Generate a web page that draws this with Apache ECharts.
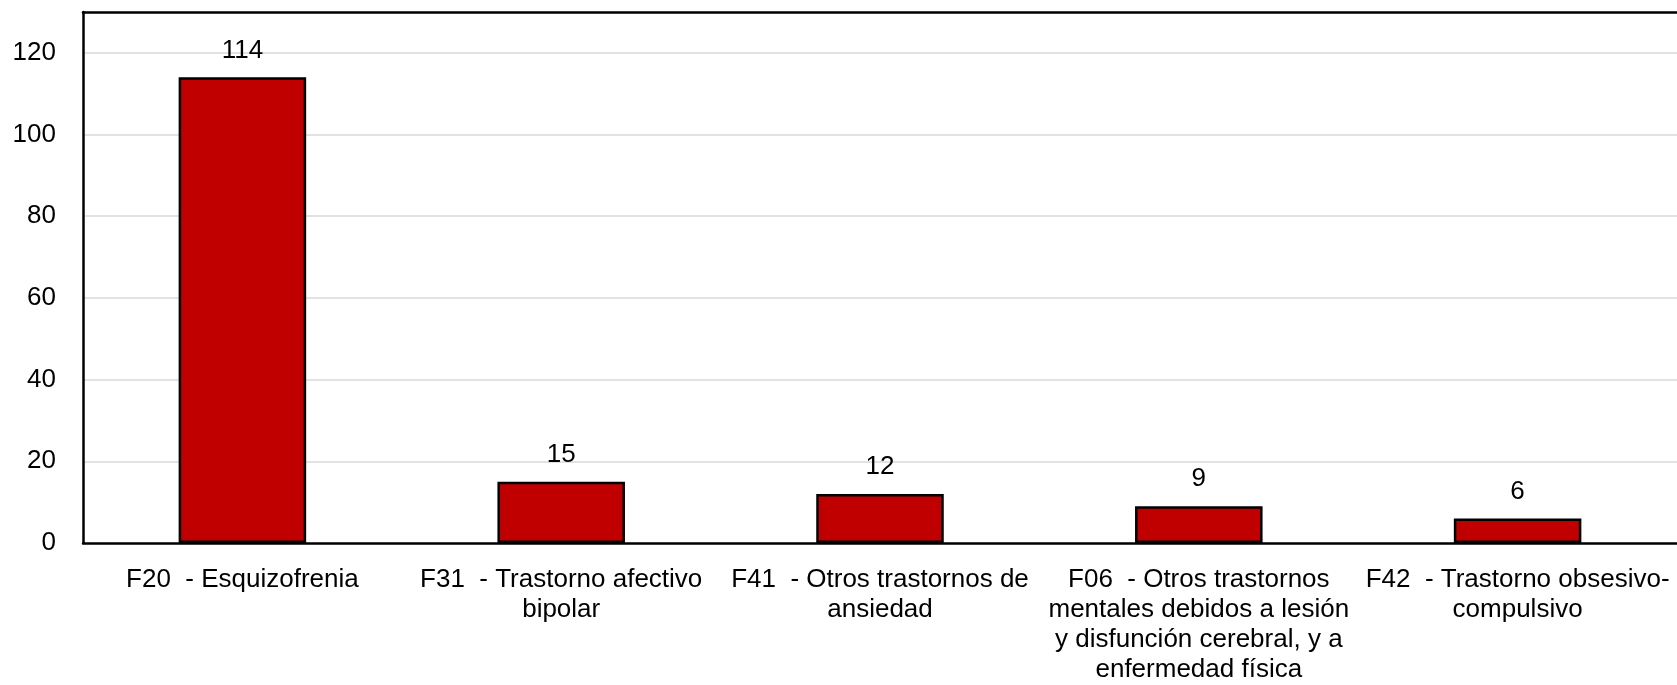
<!DOCTYPE html>
<html>
<head>
<meta charset="utf-8">
<script src="https://cdn.jsdelivr.net/npm/echarts@6/dist/echarts.min.js"></script>
<style>
html,body{margin:0;padding:0;background:#fff;}
#chart{width:1677px;height:685px;}
</style>
</head>
<body>
<div id="chart"></div>
<script>
const categories = [
  "F20  - Esquizofrenia",
  "F31  - Trastorno afectivo\nbipolar",
  "F41  - Otros trastornos de\nansiedad",
  "F06  - Otros trastornos\nmentales debidos a lesión\ny disfunción cerebral, y a\nenfermedad física",
  "F42  - Trastorno obsesivo-\ncompulsivo"
];
const values = [114, 15, 12, 9, 6];
const yMin = 0, yMax = 130, yStep = 20;

const font = "'Liberation Sans', Arial, sans-serif";
const chart = echarts.init(document.getElementById('chart'));
chart.setOption({
  animation: false,
  backgroundColor: '#fff',
  grid: {left: 83, top: 12, right: 0, bottom: 136, show: false, containLabel: false},
  xAxis: [{
    type: 'category',
    data: categories,
    axisTick: {show: false},
    axisLine: {lineStyle: {color: '#000', width: 2.5}},
    axisLabel: {color: '#000', fontFamily: font, fontSize: 26, lineHeight: 30, margin: 22, interval: 0, align: 'center'}
  }, {
    type: 'category',
    position: 'top',
    data: categories,
    axisTick: {show: false},
    axisLabel: {show: false},
    axisLine: {show: true, lineStyle: {color: '#000', width: 2.5}}
  }],
  yAxis: {
    type: 'value',
    min: yMin, max: yMax, interval: yStep,
    axisLine: {show: true, lineStyle: {color: '#000', width: 2.5}},
    axisTick: {show: false},
    splitLine: {showMaxLine: false, showMinLine: false, lineStyle: {color: '#d9d9d9', width: 1.5}},
    axisLabel: {color: '#000', fontFamily: font, fontSize: 26, margin: 27, showMaxLabel: false}
  },
  series: [{
    type: 'bar',
    data: values,
    barWidth: '40%',
    itemStyle: {color: '#C00000', borderColor: '#000', borderWidth: 2.5},
    label: {show: true, position: 'top', distance: 14, color: '#000', fontFamily: font, fontSize: 26}
  }]
});
</script>
</body>
</html>
